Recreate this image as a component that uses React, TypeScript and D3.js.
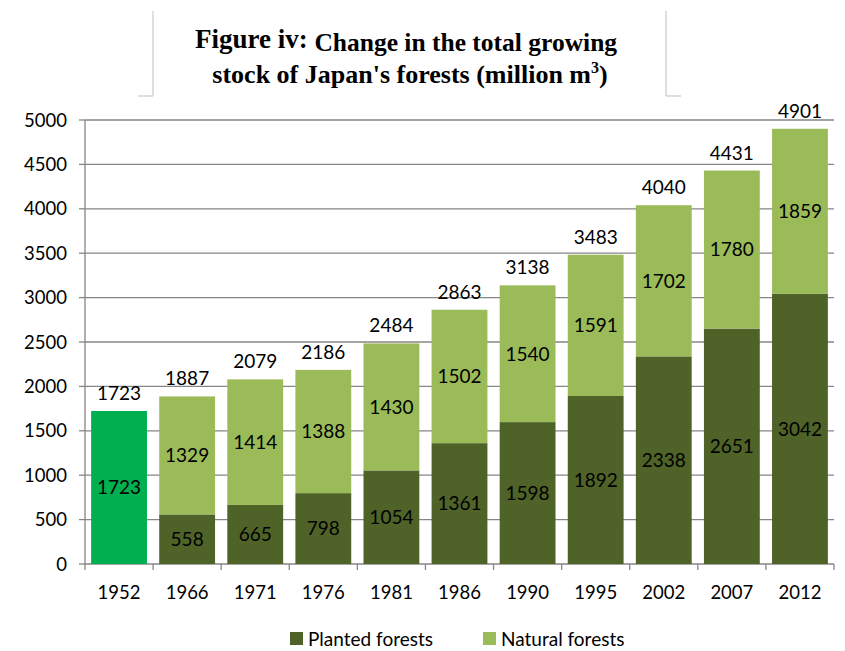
import React from "react";
import * as d3 from "d3";

const years = ["1952", "1966", "1971", "1976", "1981", "1986", "1990", "1995", "2002", "2007", "2012"];
const planted = [1723, 558, 665, 798, 1054, 1361, 1598, 1892, 2338, 2651, 3042];
const natural = [0, 1329, 1414, 1388, 1430, 1502, 1540, 1591, 1702, 1780, 1859];
const totals = [1723, 1887, 2079, 2186, 2484, 2863, 3138, 3483, 4040, 4431, 4901];
const yTicks = [0, 500, 1000, 1500, 2000, 2500, 3000, 3500, 4000, 4500, 5000];
const legendItems = ["Planted forests", "Natural forests"];

const W = 845, H = 651;
const left = 85, right = 834, top = 120, bottom = 564;
const C_FIRST = "#00B050", C_PLANT = "#4F6228", C_NAT = "#9BBB59";
const numFont = "Lato, 'Open Sans', sans-serif";
const serif = "'Liberation Serif', 'Times New Roman', serif";

export default function App() {
  const x = d3.scaleBand<string>().domain(years).range([left, right]).paddingInner(0.18).paddingOuter(0.09);
  const y = d3.scaleLinear().domain([0, 5000]).range([bottom, top]);
  const step = x.step();
  return (
    <svg width={W} height={H} style={{ display: "block", position: "absolute", left: 0, top: 0 }}>
      <rect width={W} height={H} fill="#fff" />
      {/* title box edges */}
      <path d="M153,11 V96 H138" fill="none" stroke="#BFBFBF" strokeWidth={1} />
      <path d="M666,11 V96 H681" fill="none" stroke="#BFBFBF" strokeWidth={1} />
      <text x={406} y={51} textAnchor="middle" fontFamily={serif} fontWeight="bold" fill="#000">
        <tspan fontSize={27} dy={-3}>Figure iv: </tspan>
        <tspan fontSize={25.5} dy={3}>Change in the total growing</tspan>
      </text>
      <text x={410} y={83} textAnchor="middle" fontFamily={serif} fontWeight="bold" fontSize={26} fill="#000">
        stock of Japan's forests (million m<tspan fontSize={16} dy={-10}>3</tspan><tspan dy={10}>)</tspan>
      </text>
      {/* gridlines */}
      {yTicks.filter(t => t > 0).map(t => (
        <line key={t} x1={left} x2={right} y1={y(t)} y2={y(t)} stroke="#868686" strokeWidth={1.3} />
      ))}
      {/* y axis */}
      <line x1={left} x2={left} y1={top} y2={bottom} stroke="#868686" strokeWidth={1.3} />
      {yTicks.map(t => (
        <g key={t}>
          <line x1={left - 6} x2={left} y1={y(t)} y2={y(t)} stroke="#868686" strokeWidth={1.3} />
          <text x={67} y={y(t)} dy="0.36em" textAnchor="end" fontFamily={numFont} fontSize={18.5} fill="#000">{t}</text>
        </g>
      ))}
      {/* x axis */}
      <line x1={left} x2={right} y1={bottom} y2={bottom} stroke="#868686" strokeWidth={1.3} />
      {years.map((yr, i) => (
        <line key={yr} x1={left + i * step} x2={left + i * step} y1={bottom} y2={bottom + 6} stroke="#868686" strokeWidth={1.3} />
      ))}
      <line x1={right} x2={right} y1={bottom} y2={bottom + 6} stroke="#868686" strokeWidth={1.3} />
      {years.map(yr => (
        <text key={yr} x={(x(yr) as number) + x.bandwidth() / 2} y={599} textAnchor="middle" fontFamily={numFont} fontSize={18.5} fill="#000">{yr}</text>
      ))}
      {/* bars */}
      {years.map((yr, i) => {
        const bx = x(yr) as number;
        const bw = x.bandwidth();
        const cx = bx + bw / 2;
        const p = planted[i], n = natural[i];
        return (
          <g key={yr}>
            <rect x={bx} y={y(p)} width={bw} height={y(0) - y(p)} fill={i === 0 ? C_FIRST : C_PLANT} />
            {n > 0 && <rect x={bx} y={y(p + n)} width={bw} height={y(p) - y(p + n)} fill={C_NAT} />}
            <text x={cx} y={(y(0) + y(p)) / 2} dy="0.36em" textAnchor="middle" fontFamily={numFont} fontSize={19} fill="#000">{p}</text>
            {n > 0 && <text x={cx} y={(y(p) + y(p + n)) / 2} dy="0.36em" textAnchor="middle" fontFamily={numFont} fontSize={19} fill="#000">{n}</text>}
            <text x={cx} y={y(totals[i]) - 11} textAnchor="middle" fontFamily={numFont} fontSize={19} fill="#000">{totals[i]}</text>
          </g>
        );
      })}
      {/* legend */}
      {legendItems.map((name, i) => {
        const lx = i === 0 ? 290 : 483;
        return (
          <g key={name}>
            <rect x={lx} y={632} width={13} height={13} fill={i === 0 ? C_PLANT : C_NAT} />
            <text x={lx + 18} y={639} dy="0.36em" fontFamily={numFont} fontSize={19} fill="#000">{name}</text>
          </g>
        );
      })}
    </svg>
  );
}
